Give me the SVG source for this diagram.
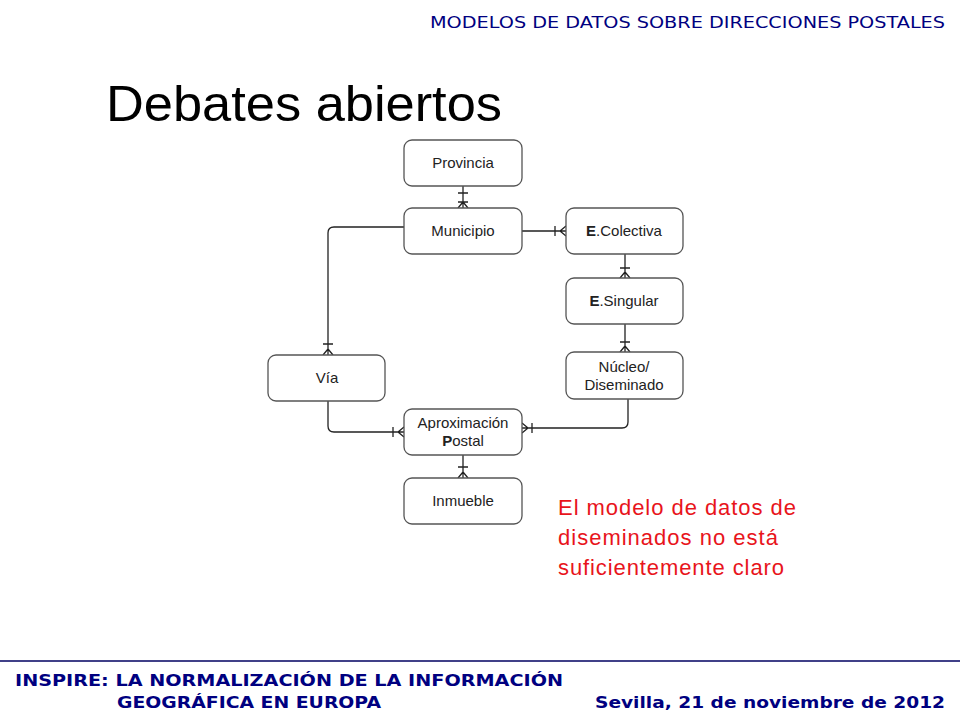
<svg xmlns="http://www.w3.org/2000/svg" width="960" height="720" viewBox="0 0 960 720">
<style>
.box{fill:#fff;stroke:#555;stroke-width:1.3}
.lbl{font-family:"Liberation Sans",Arial,sans-serif;font-size:15px;fill:#222;text-anchor:middle}
.c{fill:none;stroke:#222;stroke-width:1.3}
.red{font-family:"Liberation Sans",Arial,sans-serif;font-size:22px;fill:#e8141b}
.ft{font-family:"DejaVu Sans",Verdana,sans-serif;font-weight:bold;font-size:16px;fill:#000080}
</style>
<rect width="960" height="720" fill="#fff"/>
<text x="945" y="28" text-anchor="end" style="font-family:'DejaVu Sans',Verdana,sans-serif;font-size:16px;fill:#000080" textLength="515" lengthAdjust="spacingAndGlyphs">MODELOS DE DATOS SOBRE DIRECCIONES POSTALES</text>
<text x="106" y="121" style="font-family:'Liberation Sans',Arial,sans-serif;font-size:50px;fill:#000" textLength="396" lengthAdjust="spacingAndGlyphs">Debates abiertos</text>

<g id="connectors">
  <!-- Provincia - Municipio -->
  <path class="c" d="M463,186 V208 M458,193 H468 M458,202 H468 M463,202 L458,208 M463,202 L468,208"/>
  <!-- Municipio - E.Colectiva -->
  <path class="c" d="M522,231 H566 M555,226 V236 M560,231 L566,226 M560,231 L566,236"/>
  <!-- E.Colectiva - E.Singular -->
  <path class="c" d="M625,254 V278 M620,268 H630 M625,272 L620,278 M625,272 L630,278"/>
  <!-- E.Singular - Nucleo -->
  <path class="c" d="M625,324 V352 M620,342 H630 M625,346 L620,352 M625,346 L630,352"/>
  <!-- Municipio - Via -->
  <path class="c" d="M404,227 H334 Q328,227 328,233 V355 M323,344 H333 M328,349 L323,355 M328,349 L333,355"/>
  <!-- Via - Aproximacion -->
  <path class="c" d="M328,401 V426 Q328,432 334,432 H404 M393,427 V437 M398,432 L404,427 M398,432 L404,437"/>
  <!-- Nucleo - Aproximacion -->
  <path class="c" d="M628,399 V422 Q628,428 622,428 H522 M532,423 V433 M528,428 L522,423 M528,428 L522,433"/>
  <!-- Aproximacion - Inmueble -->
  <path class="c" d="M463,455 V478 M458,467 H468 M463,472 L458,478 M463,472 L468,478"/>
</g>

<g id="provincia"><rect class="box" x="404" y="140" width="118" height="46" rx="8"/><text class="lbl" x="463" y="168">Provincia</text></g>
<g id="municipio"><rect class="box" x="404" y="208" width="118" height="46" rx="8"/><text class="lbl" x="463" y="236">Municipio</text></g>
<g id="ecolectiva"><rect class="box" x="566" y="208" width="117" height="46" rx="8"/><text class="lbl" x="624" y="236"><tspan font-weight="bold">E</tspan>.Colectiva</text></g>
<g id="esingular"><rect class="box" x="566" y="278" width="117" height="46" rx="8"/><text class="lbl" x="624" y="306"><tspan font-weight="bold">E</tspan>.Singular</text></g>
<g id="nucleo"><rect class="box" x="566" y="352" width="117" height="47" rx="8"/><text class="lbl" x="624" y="372">Núcleo/</text><text class="lbl" x="624" y="390">Diseminado</text></g>
<g id="via"><rect class="box" x="268" y="355" width="117" height="46" rx="8"/><text class="lbl" x="327" y="383">Vía</text></g>
<g id="aproximacion"><rect class="box" x="404" y="409" width="118" height="46" rx="8"/><text class="lbl" x="463" y="428">Aproximación</text><text class="lbl" x="463" y="446"><tspan font-weight="bold">P</tspan>ostal</text></g>
<g id="inmueble"><rect class="box" x="404" y="478" width="118" height="46" rx="8"/><text class="lbl" x="463" y="506">Inmueble</text></g>

<g id="note">
<text class="red" x="558" y="515" textLength="238" lengthAdjust="spacing">El modelo de datos de</text>
<text class="red" x="558" y="545" textLength="220" lengthAdjust="spacing">diseminados no está</text>
<text class="red" x="558" y="575" textLength="226" lengthAdjust="spacing">suficientemente claro</text>
</g>

<line x1="0" y1="661" x2="960" y2="661" stroke="#000060" stroke-width="1.5"/>
<text class="ft" x="15" y="686" textLength="548" lengthAdjust="spacingAndGlyphs">INSPIRE: LA NORMALIZACIÓN DE LA INFORMACIÓN</text>
<text class="ft" x="117" y="708" textLength="264" lengthAdjust="spacingAndGlyphs">GEOGRÁFICA EN EUROPA</text>
<text class="ft" x="945" y="708" text-anchor="end" textLength="350" lengthAdjust="spacingAndGlyphs">Sevilla, 21 de noviembre de 2012</text>
</svg>
